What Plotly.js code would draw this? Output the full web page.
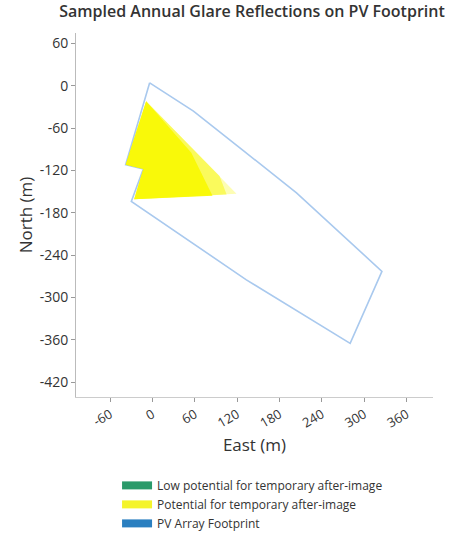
<!DOCTYPE html>
<html>
<head>
<meta charset="utf-8">
<script src="https://cdn.plot.ly/plotly-3.0.1.min.js"></script>
<style>html,body{margin:0;padding:0;background:#fff;}#chart{width:458px;height:534px;}</style>
</head>
<body>
<div id="chart"></div>
<script>
// PV array footprint outline (East, North in metres)
var footprintEast  = [-4, 58, 130, 204, 325, 280, 133, -30, -13, -38, -4];
var footprintNorth = [4, -36, -93, -152, -263, -365, -275, -164, -118, -112, 4];

// Glare region: outer (faded) extent, middle band and strong core
var glareOuterEast  = [-9, 119, -26, -13, -38, -9];
var glareOuterNorth = [-22, -153, -161, -118, -112, -22];
var glareMidEast    = [-9, 95, 105, -26, -13, -38, -9];
var glareMidNorth   = [-22, -128, -154, -161, -118, -112, -22];
var glareCoreEast   = [-9, 55, 85, -26, -13, -38, -9];
var glareCoreNorth  = [-22, -95, -156, -161, -118, -112, -22];

var legendNames  = ["Low potential for temporary after-image", "Potential for temporary after-image", "PV Array Footprint"];
var legendColors = ["#2a9a6a", "#f4f42a", "#2a7fc0"];

var xTicks = [-60, 0, 60, 120, 180, 240, 300, 360];
var yTicks = [60, 0, -60, -120, -180, -240, -300, -360, -420];

var traces = [
  {x: footprintEast, y: footprintNorth, mode: "lines",
   line: {color: "#a9c9ee", width: 1.6}, showlegend: false, hoverinfo: "skip"},
  {x: glareOuterEast, y: glareOuterNorth, mode: "lines", fill: "toself",
   fillcolor: "rgba(248,248,40,0.35)", line: {width: 0, color: "rgba(0,0,0,0)"}, showlegend: false, hoverinfo: "skip"},
  {x: glareMidEast, y: glareMidNorth, mode: "lines", fill: "toself",
   fillcolor: "rgba(248,248,20,0.55)", line: {width: 0, color: "rgba(0,0,0,0)"}, showlegend: false, hoverinfo: "skip"},
  {x: glareCoreEast, y: glareCoreNorth, mode: "lines", fill: "toself",
   fillcolor: "rgba(248,248,0,0.9)", line: {width: 0, color: "rgba(0,0,0,0)"}, showlegend: false, hoverinfo: "skip"}
];
for (var i = 0; i < legendNames.length; i++) {
  traces.push({x: [null], y: [null], mode: "lines", name: legendNames[i],
    line: {color: legendColors[i], width: 8}, showlegend: true});
}

var layout = {
  width: 458, height: 534,
  margin: {l: 76, r: 25, t: 33, b: 137, autoexpand: false},
  paper_bgcolor: "#fff", plot_bgcolor: "#fff",
  font: {family: "Open Sans, sans-serif", color: "#333", size: 12},
  title: {text: "Sampled Annual Glare Reflections on PV Footprint",
          font: {size: 16, color: "#333", weight: 600}, x: 0.493, xref: "paper", xanchor: "center",
          y: 1, yref: "container", yanchor: "top", pad: {t: 6}},
  xaxis: {range: [-108, 397], tickvals: xTicks, ticktext: xTicks.map(String), tickangle: -30,
          ticks: "outside", ticklen: 4, tickcolor: "#999", showgrid: false, zeroline: false,
          showline: true, linecolor: "#ccc", linewidth: 1,
          tickfont: {size: 13, color: "#333"},
          title: {text: "East (m)", font: {size: 17, color: "#333"}, standoff: 8}},
  yaxis: {range: [-441, 74.6], tickvals: yTicks, ticktext: yTicks.map(String),
          ticks: "outside", ticklen: 4, tickcolor: "#999", showgrid: false, zeroline: false,
          showline: true, linecolor: "#bbb", linewidth: 1,
          scaleanchor: "x", scaleratio: 1,
          tickfont: {size: 14, color: "#333"},
          title: {text: "North (m)", font: {size: 17, color: "#333"}, standoff: 2}},
  legend: {x: 0.115, y: -0.203, xanchor: "left", yanchor: "top", orientation: "v",
           font: {size: 12, color: "#333"}, itemwidth: 30, tracegroupgap: 0, bgcolor: "rgba(0,0,0,0)"},
  showlegend: true
};

Plotly.newPlot("chart", traces, layout, {displayModeBar: false, staticPlot: true});
</script>
</body>
</html>
